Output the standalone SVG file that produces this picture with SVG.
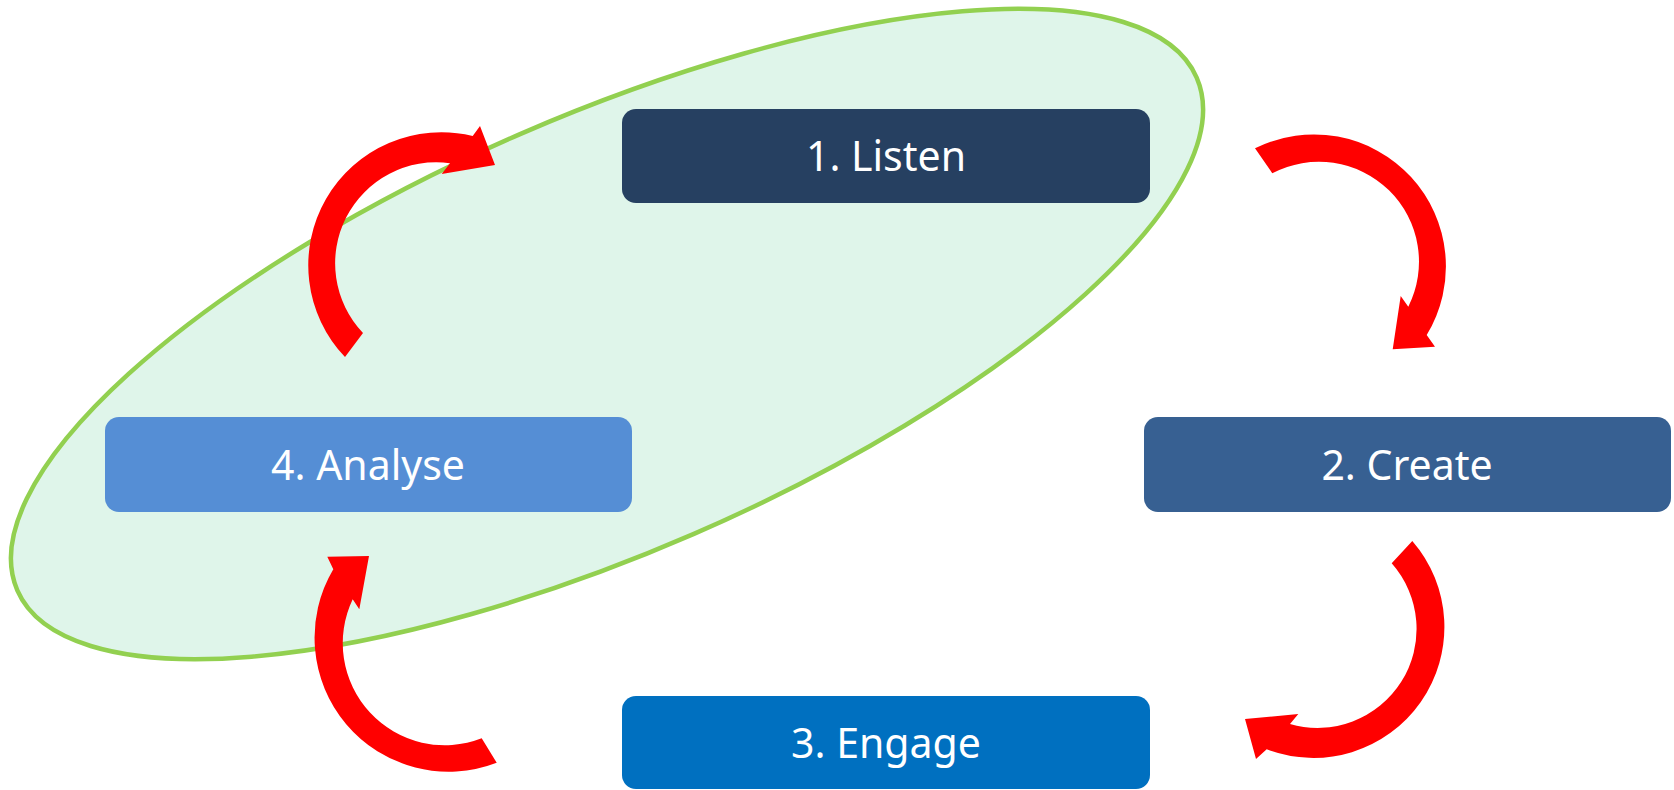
<svg xmlns="http://www.w3.org/2000/svg" width="1674" height="790" viewBox="0 0 1674 790">
<style>
.box{stroke:none}
.lbl{font-family:"Noto Sans","Open Sans","DejaVu Sans",sans-serif;font-size:41px;fill:#FFFFFF;text-anchor:middle}
.arr{fill:#FF0000;stroke:none}
</style>
<rect x="0" y="0" width="1674" height="790" fill="#FFFFFF"/>
<g id="scope">
<ellipse cx="607" cy="334" rx="643" ry="218" transform="rotate(-23.5 607 334)" fill="#DFF5EA" stroke="#92D050" stroke-width="4.5"/>
</g>
<g id="node-listen">
<rect class="box" x="622" y="109" width="528" height="94" rx="14" fill="#264061"/>
<text class="lbl" x="886" y="171">1. Listen</text>
</g>
<g id="node-create">
<rect class="box" x="1144" y="417" width="527" height="95" rx="14" fill="#376092"/>
<text class="lbl" x="1407" y="480">2. Create</text>
</g>
<g id="node-engage">
<rect class="box" x="622" y="696" width="528" height="93" rx="14" fill="#0070C0"/>
<text class="lbl" x="886" y="758">3. Engage</text>
</g>
<g id="node-analyse">
<rect class="box" x="105" y="417" width="527" height="95" rx="14" fill="#558ED5"/>
<text class="lbl" x="368" y="480">4. Analyse</text>
</g>
<g id="connectors">
<path class="arr" d="M 345,357 A 133 133 0 0 1 472.7,136 L 480,126 L 495,165 L 441.7,174 L 450,163.3 A 101 101 0 0 0 363,333 Z"/>
<path class="arr" d="M 1255,148.3 A 132 132 0 0 1 1426.7,335 L 1435,346.7 L 1392.7,349.3 L 1400.7,296 L 1408.3,306.7 A 100 100 0 0 0 1272.3,173.3 Z"/>
<path class="arr" d="M 1412.3,541 A 131 131 0 0 1 1266.7,749.3 L 1256,759 L 1245,719 L 1298.3,714 L 1290,724 A 99 99 0 0 0 1391.7,563.3 Z"/>
<path class="arr" d="M 496.7,762.7 A 134 134 0 0 1 333.3,569.3 L 327.3,556.7 L 369,556 L 359.3,609.3 L 352.7,599.3 A 102 102 0 0 0 481.7,738.3 Z"/>
</g>
</svg>
